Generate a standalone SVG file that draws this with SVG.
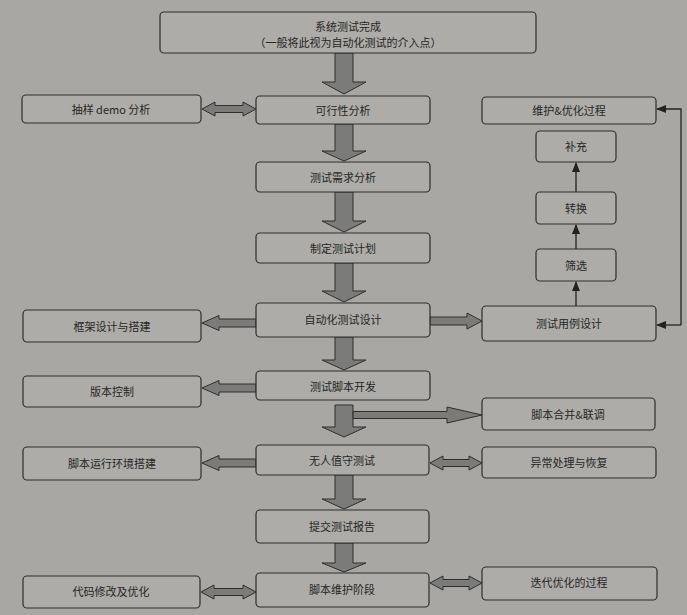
<svg xmlns="http://www.w3.org/2000/svg" width="687" height="615" viewBox="0 0 687 615">
<style>
.bg{fill:#a8a7a3}
.box{fill:#adaca8;stroke:#2e2e2e;stroke-width:1.2}
.t{font-family:"Noto Sans CJK SC","Noto Sans",sans-serif;font-size:11px;fill:#262626;text-anchor:middle;dominant-baseline:central}
.big{fill:#7b7b79;stroke:#2e2e2e;stroke-width:1}
.thin{fill:none;stroke:#222;stroke-width:1.3}
</style>
<defs>
<marker id="ah" markerWidth="10" markerHeight="8" refX="9" refY="4" orient="auto" markerUnits="userSpaceOnUse">
<path d="M0,0 L10,4 L0,8 Z" fill="#222"/>
</marker>
</defs>
<rect class="bg" x="0" y="0" width="687" height="615"/>

<g id="connectors">
<!-- vertical thick arrows -->
<polygon class="big" points="335,53 353,53 353,82 366,82 344,94 322,82 335,82"/>
<polygon class="big" points="335,124 353,124 353,151 366,151 344,161 322,151 335,151"/>
<polygon class="big" points="335,192 353,192 353,221 366,221 344,232 322,221 335,221"/>
<polygon class="big" points="335,263 353,263 353,291 366,291 344,302 322,291 335,291"/>
<polygon class="big" points="335,337 353,337 353,360 366,360 344,370 322,360 335,360"/>
<polygon class="big" points="335,405 353,405 353,427 366,427 344,437 322,427 335,427"/>
<polygon class="big" points="335,475 353,475 353,499 366,499 344,509 322,499 335,499"/>
<polygon class="big" points="335,543 353,543 353,563 366,563 344,572 322,563 335,563"/>
<!-- horizontal thick arrows -->
<polygon class="big" points="202,109 215,102 215,105.5 243,105.5 243,102 256,109 243,116 243,112.5 215,112.5 215,116"/>
<polygon class="big" points="256,319 219,319 219,315.5 202,323 219,330.5 219,327 256,327"/>
<polygon class="big" points="430,317 467,317 467,313 482,321 467,329 467,325 430,325"/>
<polygon class="big" points="256,384 219,384 219,380.5 202,388 219,395.5 219,392 256,392"/>
<polygon class="big" points="353,411.5 447,411.5 447,407 482,415 447,423 447,418.5 353,418.5"/>
<polygon class="big" points="256,459 219,459 219,455.5 202,463 219,470.5 219,467 256,467"/>
<polygon class="big" points="430,463 443,456 443,459.5 469,459.5 469,456 482,463 469,470 469,466.5 443,466.5 443,470"/>
<polygon class="big" points="201,592 214,585 214,588.5 243,588.5 243,585 256,592 243,599 243,595.5 214,595.5 214,599"/>
<polygon class="big" points="430,583 443,576 443,579.5 469,579.5 469,576 482,583 469,590 469,586.5 443,586.5 443,590"/>
<!-- thin arrows right column -->
<line class="thin" x1="576" y1="306" x2="576" y2="282" marker-end="url(#ah)"/>
<line class="thin" x1="576" y1="249" x2="576" y2="225" marker-end="url(#ah)"/>
<line class="thin" x1="576" y1="192" x2="576" y2="163" marker-end="url(#ah)"/>
<polyline class="thin" points="681,325 681,109 657,109" marker-end="url(#ah)"/>
<line class="thin" x1="681" y1="325" x2="657" y2="325" marker-end="url(#ah)"/>
</g>

<g id="n-start"><rect class="box" x="160" y="12" width="376" height="41" rx="4"/><text class="t" x="348" y="26">系统测试完成</text><text class="t" x="348" y="42">（一般将此视为自动化测试的介入点）</text></g>
<g id="n-feas"><rect class="box" x="256" y="96" width="174" height="28" rx="4"/><text class="t" x="343" y="110">可行性分析</text></g>
<g id="n-demo"><rect class="box" x="22" y="95" width="179" height="28" rx="4"/><text class="t" x="111" y="109">抽样 demo 分析</text></g>
<g id="n-maint"><rect class="box" x="482" y="97" width="174" height="27" rx="4"/><text class="t" x="569" y="110">维护&amp;优化过程</text></g>
<g id="n-supp"><rect class="box" x="536" y="131" width="80" height="31" rx="4"/><text class="t" x="576" y="146">补充</text></g>
<g id="n-req"><rect class="box" x="256" y="162" width="174" height="30" rx="4"/><text class="t" x="343" y="177">测试需求分析</text></g>
<g id="n-conv"><rect class="box" x="536" y="192" width="80" height="32" rx="4"/><text class="t" x="576" y="208">转换</text></g>
<g id="n-plan"><rect class="box" x="256" y="233" width="174" height="30" rx="4"/><text class="t" x="343" y="248">制定测试计划</text></g>
<g id="n-filter"><rect class="box" x="536" y="249" width="80" height="32" rx="4"/><text class="t" x="576" y="265">筛选</text></g>
<g id="n-auto"><rect class="box" x="256" y="303" width="174" height="34" rx="4"/><text class="t" x="343" y="319">自动化测试设计</text></g>
<g id="n-frame"><rect class="box" x="23" y="310" width="178" height="32" rx="4"/><text class="t" x="112" y="326">框架设计与搭建</text></g>
<g id="n-case"><rect class="box" x="482" y="306" width="174" height="35" rx="4"/><text class="t" x="569" y="323">测试用例设计</text></g>
<g id="n-script"><rect class="box" x="256" y="371" width="174" height="29" rx="4"/><text class="t" x="343" y="386">测试脚本开发</text></g>
<g id="n-ver"><rect class="box" x="23" y="376" width="178" height="31" rx="4"/><text class="t" x="112" y="391">版本控制</text></g>
<g id="n-merge"><rect class="box" x="482" y="398" width="173" height="32" rx="4"/><text class="t" x="568" y="414">脚本合并&amp;联调</text></g>
<g id="n-unatt"><rect class="box" x="256" y="445" width="173" height="30" rx="4"/><text class="t" x="342" y="460">无人值守测试</text></g>
<g id="n-env"><rect class="box" x="23" y="447" width="178" height="33" rx="4"/><text class="t" x="112" y="463">脚本运行环境搭建</text></g>
<g id="n-exc"><rect class="box" x="482" y="447" width="174" height="31" rx="4"/><text class="t" x="569" y="462">异常处理与恢复</text></g>
<g id="n-report"><rect class="box" x="256" y="510" width="173" height="33" rx="4"/><text class="t" x="342" y="526">提交测试报告</text></g>
<g id="n-smaint"><rect class="box" x="256" y="573" width="173" height="34" rx="4"/><text class="t" x="342" y="589">脚本维护阶段</text></g>
<g id="n-code"><rect class="box" x="23" y="576" width="177" height="32" rx="4"/><text class="t" x="111" y="591">代码修改及优化</text></g>
<g id="n-iter"><rect class="box" x="482" y="567" width="175" height="33" rx="4"/><text class="t" x="569" y="582">迭代优化的过程</text></g>
</svg>
